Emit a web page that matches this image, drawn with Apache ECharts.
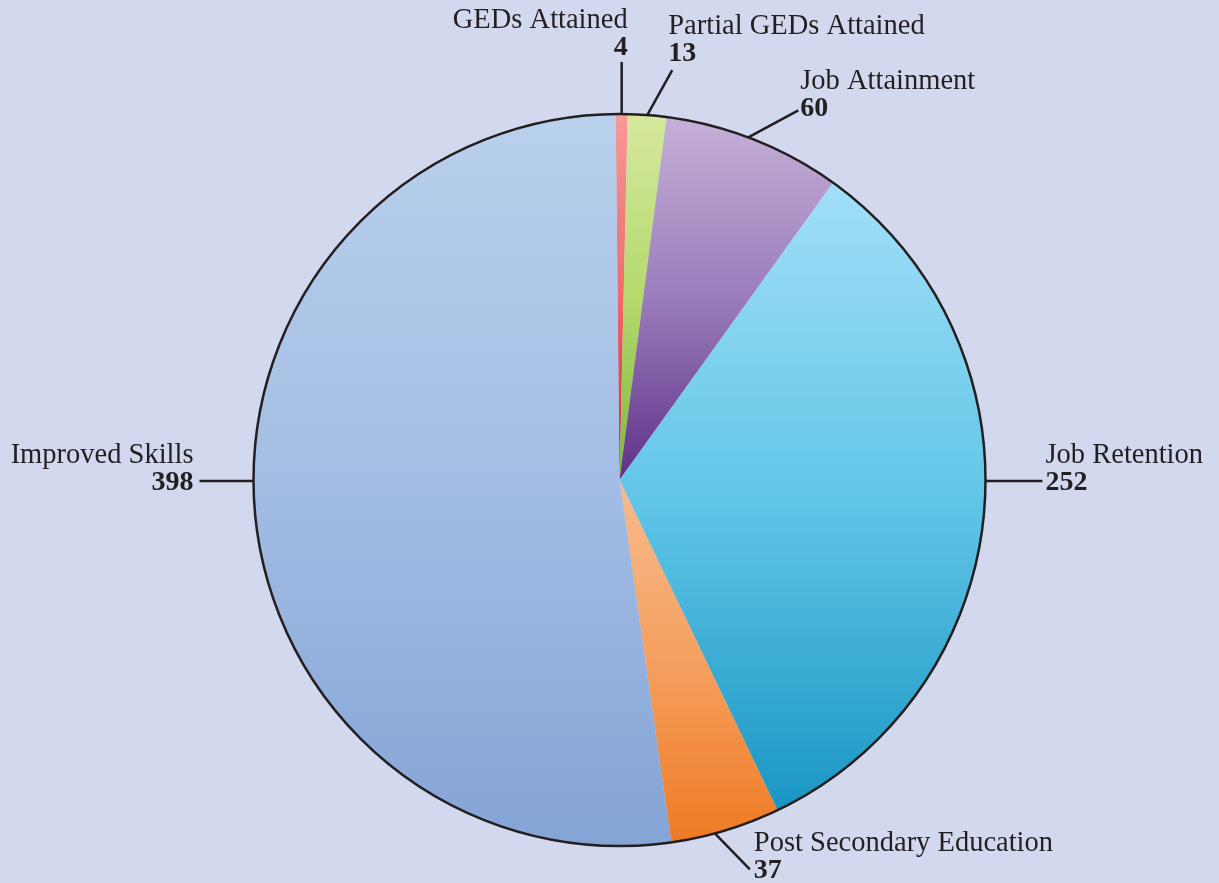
<!DOCTYPE html>
<html>
<head>
<meta charset="utf-8">
<style>
html,body{margin:0;padding:0;background:#d2d8ee;}
#chart{width:1219px;height:883px;}
</style>
<script src="https://cdn.jsdelivr.net/npm/echarts@6/dist/echarts.min.js"></script>
</head>
<body>
<div id="chart"></div>
<script>
// Data
var categories = ['GEDs Attained', 'Partial GEDs Attained', 'Job Attainment', 'Job Retention', 'Post Secondary Education', 'Improved Skills'];
var values = [4, 13, 60, 252, 37, 398];

// Styles (gradient top/mid/bottom colours per slice)
var topColors = ['#f59a9a', '#d6e89e', '#c6b0d8', '#a2dff8', '#f8bb8e', '#b9d1ed'];
var midColors = ['#ee6a6c', '#b5d96e', '#9a7cbb', '#62c6e8', '#f5a060', '#a3bde4'];
var bottomColors = ['#d2232a', '#7bb83a', '#5f3189', '#1a96c4', '#ef7a24', '#84a4d6'];

// Label placement: leader-line vector from the pie edge, text alignment, offsets
// side: 'mid' = start at slice mid-angle; 'left'/'right' = horizontal edge; 'angle' = given edge angle (deg clockwise from top)
var labelPlacement = [
  {side: 'mid', dx: 0, dy: -52, align: 'right', tx: 6, ty: -1},
  {side: 'mid', dx: 25, dy: -45, align: 'left', tx: -4, ty: -3},
  {side: 'angle', angle: 20.6, dx: 50, dy: -27, align: 'left', tx: 2, ty: 12},
  {side: 'right', dx: 57, dy: 0, align: 'left', tx: 3, ty: 15},
  {side: 'angle', angle: 164.9, dx: 35, dy: 36, align: 'left', tx: 4, ty: 15},
  {side: 'left', dx: -54, dy: 0, align: 'right', tx: -6, ty: 15}
];

var chart = echarts.init(document.getElementById('chart'), null, {renderer: 'canvas'});

var pieData = categories.map(function (name, i) {
  return {
    name: name,
    value: values[i],
    itemStyle: {
      color: new echarts.graphic.LinearGradient(0, 0, 0, 1, [
        {offset: 0, color: topColors[i]},
        {offset: 0.5, color: midColors[i]},
        {offset: 1, color: bottomColors[i]}
      ])
    }
  };
});

var CENTER = [619.5, 480];
var RADIUS = 366;

var option = {
  backgroundColor: '#d2d8ee',
  animation: false,
  series: [
    {
      type: 'pie',
      center: CENTER,
      radius: RADIUS,
      startAngle: 90.6,
      clockwise: true,
      avoidLabelOverlap: false,
      silent: true,
      itemStyle: {borderWidth: 0},
      label: {
        show: true,
        position: 'outside',
        formatter: function (p) { return '{n|' + p.name + '}\n{v|' + p.value + '}'; },
        color: '#231f20',
        fontFamily: '"Liberation Serif", "DejaVu Serif", serif',
        fontSize: 28,
        lineHeight: 27,
        rich: {
          n: {fontFamily: '"Liberation Serif", serif', fontSize: 28.5, lineHeight: 27, color: '#231f20'},
          v: {fontFamily: '"Liberation Serif", serif', fontSize: 28, lineHeight: 27, fontWeight: 'bold', color: '#231f20'}
        }
      },
      labelLine: {
        show: true,
        length: 10,
        length2: 0,
        smooth: false,
        lineStyle: {color: '#231f20', width: 2.5}
      },
      labelLayout: function (params) {
        var cfg = labelPlacement[params.dataIndex];
        var pts = params.labelLinePoints;
        if (!pts) return {};
        var s;
        if (cfg.side === 'right') {
          s = [CENTER[0] + RADIUS, CENTER[1] + 1];
        } else if (cfg.side === 'left') {
          s = [CENTER[0] - RADIUS, CENTER[1] + 1];
        } else if (cfg.side === 'angle') {
          var a = cfg.angle * Math.PI / 180;
          s = [CENTER[0] + RADIUS * Math.sin(a), CENTER[1] - RADIUS * Math.cos(a)];
        } else {
          s = [pts[0][0], pts[0][1]];
        }
        var e = [s[0] + cfg.dx, s[1] + cfg.dy];
        return {
          x: e[0] + cfg.tx,
          y: e[1] + cfg.ty,
          align: cfg.align,
          verticalAlign: 'bottom',
          labelLinePoints: [[s[0], s[1]], [e[0], e[1]], [e[0], e[1]]]
        };
      },
      data: pieData
    },
    {
      type: 'pie',
      center: CENTER,
      radius: RADIUS,
      silent: true,
      label: {show: false},
      labelLine: {show: false},
      itemStyle: {color: 'rgba(0,0,0,0)', borderColor: '#231f20', borderWidth: 2.5},
      emphasis: {disabled: true},
      data: [{value: 1, name: 'outline'}]
    }
  ]
};

chart.setOption(option);
</script>
</body>
</html>
